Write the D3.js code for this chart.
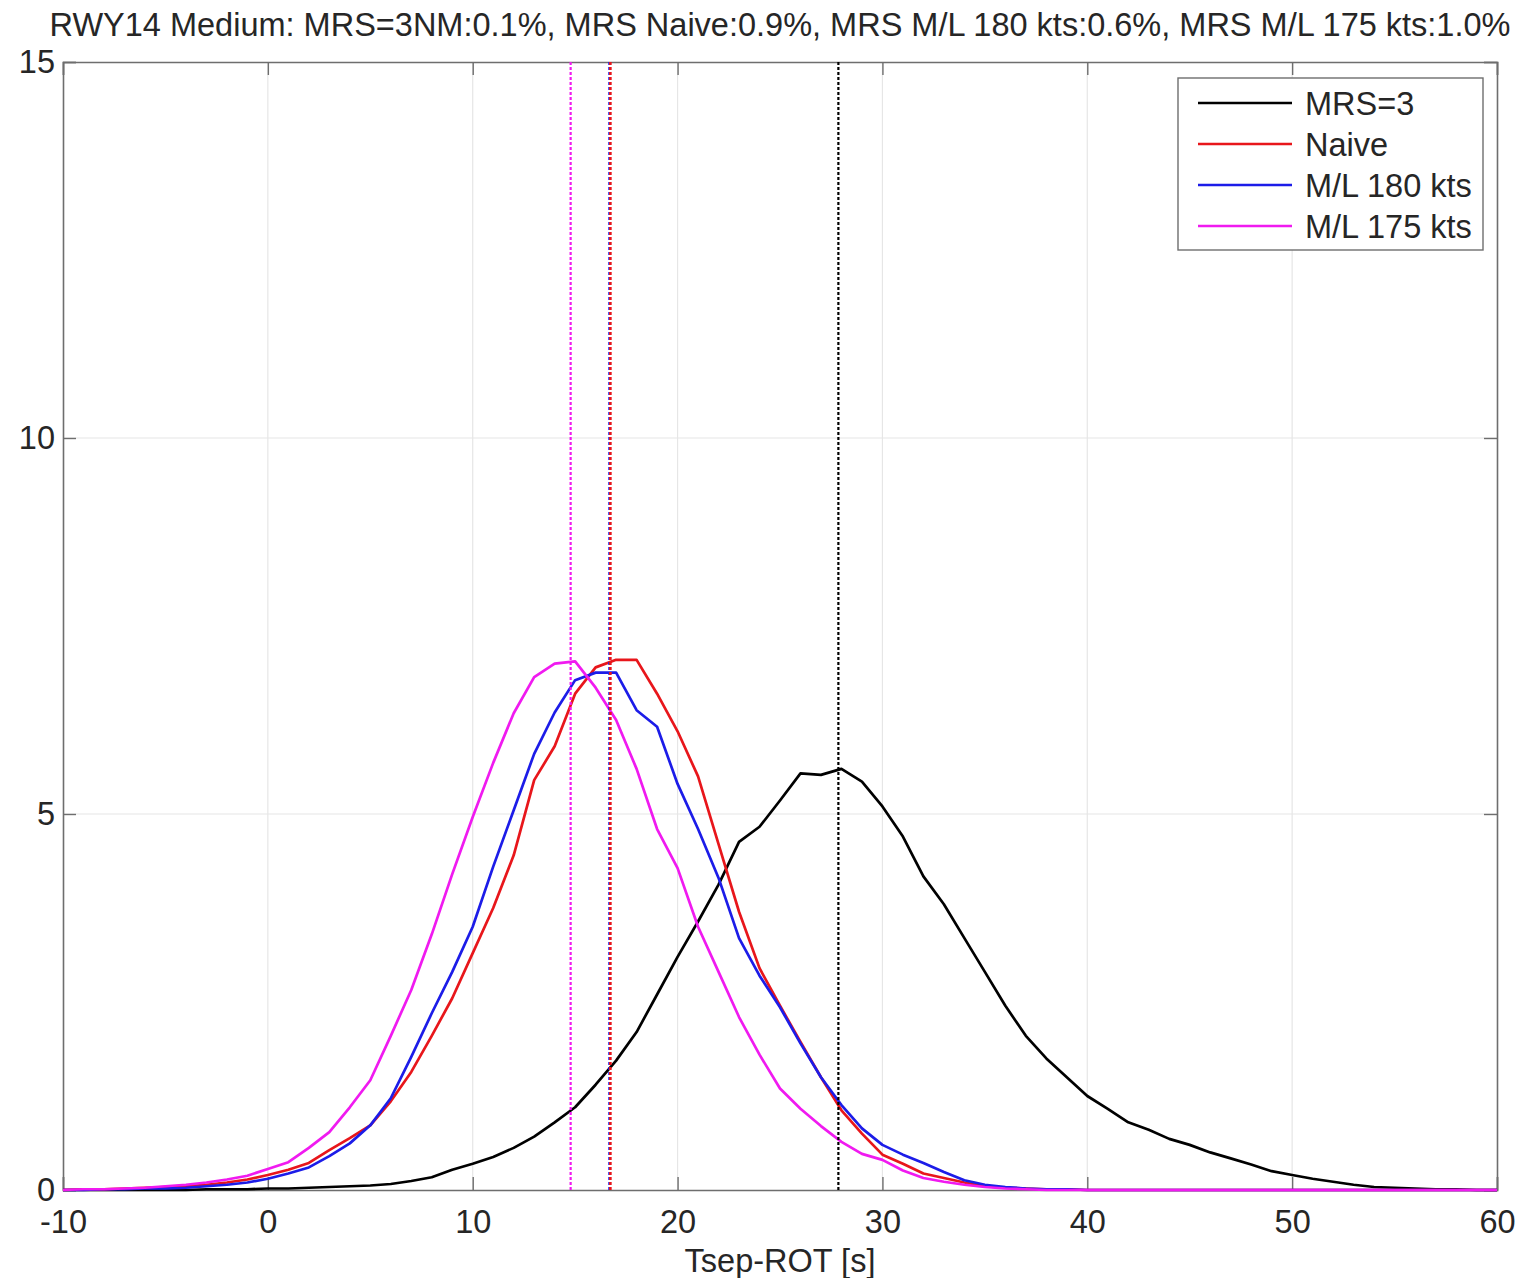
<!DOCTYPE html>
<html>
<head>
<meta charset="utf-8">
<script src="https://cdn.jsdelivr.net/npm/d3@7"></script>
<style>
  body { margin: 0; background: #fff; }
  text { font-family: "Liberation Sans", Arial, sans-serif; fill: #262626; }
</style>
</head>
<body>
<div id="chart"></div>
<script>
// bins of Tsep-ROT, one per second
const xs = d3.range(-10, 61);

// series values
const mrs3 = [0, 0, 0, 0, 0, 0, 0, 0.01, 0.01, 0.01,
  0.02, 0.02, 0.03, 0.04, 0.05, 0.06, 0.08, 0.12, 0.17, 0.27,
  0.35, 0.44, 0.56, 0.71, 0.9, 1.1, 1.4, 1.72, 2.1, 2.6,
  3.1, 3.57, 4.06, 4.63, 4.83, 5.18, 5.54, 5.52, 5.6, 5.43,
  5.1, 4.7, 4.17, 3.8, 3.35, 2.9, 2.45, 2.05, 1.75, 1.5,
  1.25, 1.08, 0.9, 0.8, 0.68, 0.6, 0.5, 0.42, 0.34, 0.25,
  0.2, 0.15, 0.11, 0.07, 0.04, 0.03, 0.02, 0.01, 0.01, 0, 0];

const naive = [0, 0.01, 0.01, 0.02, 0.03, 0.04, 0.05, 0.07, 0.1, 0.14,
  0.2, 0.27, 0.36, 0.53, 0.69, 0.86, 1.18, 1.57, 2.05, 2.55,
  3.15, 3.75, 4.45, 5.45, 5.9, 6.6, 6.95, 7.05, 7.05, 6.6,
  6.1, 5.5, 4.6, 3.7, 2.95, 2.45, 1.97, 1.5, 1.06, 0.75,
  0.47, 0.35, 0.22, 0.16, 0.1, 0.05, 0.03, 0.02, 0.01, 0.01,
  0, 0, 0, 0, 0, 0, 0, 0, 0, 0,
  0, 0, 0, 0, 0, 0, 0, 0, 0, 0, 0];

const ml180 = [0, 0, 0.01, 0.01, 0.02, 0.02, 0.03, 0.05, 0.07, 0.1,
  0.15, 0.22, 0.3, 0.45, 0.62, 0.86, 1.22, 1.77, 2.35, 2.9,
  3.5, 4.3, 5.05, 5.8, 6.35, 6.78, 6.88, 6.88, 6.38, 6.16,
  5.4, 4.8, 4.15, 3.35, 2.85, 2.43, 1.95, 1.5, 1.13, 0.82,
  0.6, 0.47, 0.36, 0.24, 0.13, 0.07, 0.04, 0.02, 0.01, 0.01,
  0, 0, 0, 0, 0, 0, 0, 0, 0, 0,
  0, 0, 0, 0, 0, 0, 0, 0, 0, 0, 0];

const ml175 = [0, 0.01, 0.01, 0.02, 0.03, 0.05, 0.07, 0.1, 0.14, 0.19,
  0.28, 0.37, 0.56, 0.77, 1.1, 1.46, 2.05, 2.66, 3.4, 4.2,
  4.96, 5.68, 6.34, 6.82, 7.0, 7.03, 6.68, 6.25, 5.6, 4.8,
  4.28, 3.5, 2.9, 2.3, 1.8, 1.35, 1.08, 0.85, 0.64, 0.48,
  0.4, 0.26, 0.16, 0.11, 0.07, 0.04, 0.02, 0.01, 0, 0,
  0, 0, 0, 0, 0, 0, 0, 0, 0, 0,
  0, 0, 0, 0, 0, 0, 0, 0, 0, 0, 0];

const seriesNames = ["MRS=3", "Naive", "M/L 180 kts", "M/L 175 kts"];
const seriesValues = [mrs3, naive, ml180, ml175];
const seriesColors = ["#000000", "#e8161b", "#1c1ce8", "#f01af0"];
// medians (dashed verticals); drawn blue first so red sits on top
const medians = [27.85, 16.72, 16.67, 14.78];
const medianOrder = [0, 2, 1, 3];

const xTicks = [-10, 0, 10, 20, 30, 40, 50, 60];
const yTicks = [0, 5, 10, 15];

const titleText = "RWY14 Medium: MRS=3NM:0.1%, MRS Naive:0.9%, MRS M/L 180 kts:0.6%, MRS M/L 175 kts:1.0%";
const xLabel = "Tsep-ROT [s]";

const width = 1518, height = 1278;
const margin = { top: 62, right: 21, bottom: 88, left: 63 };
const iw = width - margin.left - margin.right;
const ih = height - margin.top - margin.bottom;
const fs = 32.5;

const svg = d3.select("#chart").append("svg")
  .attr("width", width)
  .attr("height", height);

const g = svg.append("g")
  .attr("transform", `translate(${margin.left},${margin.top})`);

const x = d3.scaleLinear().domain([-10, 60]).range([0, iw]);
const y = d3.scaleLinear().domain([0, 15]).range([ih, 0]);

// grid
g.append("g").selectAll("line")
  .data(xTicks.slice(1, -1))
  .join("line")
  .attr("x1", d => x(d)).attr("x2", d => x(d))
  .attr("y1", 0).attr("y2", ih)
  .attr("stroke", "#e6e6e6").attr("stroke-width", 1.2);
g.append("g").selectAll("line")
  .data(yTicks.slice(1, -1))
  .join("line")
  .attr("y1", d => y(d)).attr("y2", d => y(d))
  .attr("x1", 0).attr("x2", iw)
  .attr("stroke", "#e6e6e6").attr("stroke-width", 1.2);

// axes (ticks point inward, plain hyphen for negatives)
const tickLen = 13;
const fmt = d => String(d);
const xAxis = g.append("g").attr("transform", `translate(0,${ih})`)
  .call(d3.axisBottom(x).tickValues(xTicks).tickSize(-tickLen).tickPadding(20).tickFormat(fmt));
const xAxisTop = g.append("g")
  .call(d3.axisTop(x).tickValues(xTicks).tickSize(-tickLen).tickFormat(""));
const yAxis = g.append("g")
  .call(d3.axisLeft(y).tickValues(yTicks).tickSize(-tickLen).tickPadding(8).tickFormat(fmt));
const yAxisRight = g.append("g").attr("transform", `translate(${iw},0)`)
  .call(d3.axisRight(y).tickValues(yTicks).tickSize(-tickLen).tickFormat(""));

[xAxis, xAxisTop, yAxis, yAxisRight].forEach(a => {
  a.select(".domain").attr("stroke", "#6e6e6e").attr("stroke-width", 1.6);
  a.selectAll(".tick line").attr("stroke", "#6e6e6e").attr("stroke-width", 1.4);
  a.selectAll("text").attr("font-size", fs).attr("fill", "#262626")
    .style("font-family", "'Liberation Sans', Arial, sans-serif");
});

// curves
const line = d3.line()
  .x((d, i) => x(xs[i]))
  .y(d => y(d));

seriesValues.forEach((vals, k) => {
  g.append("path")
    .datum(vals)
    .attr("fill", "none")
    .attr("stroke", seriesColors[k])
    .attr("stroke-width", 2.7)
    .attr("stroke-linejoin", "round")
    .attr("d", line);
});

// median lines
g.append("g").selectAll("line")
  .data(medianOrder)
  .join("line")
  .attr("x1", k => x(medians[k])).attr("x2", k => x(medians[k]))
  .attr("y1", y(0)).attr("y2", y(15))
  .attr("stroke", k => seriesColors[k])
  .attr("stroke-width", k => k === 1 ? 2.6 : 2.2)
  .attr("stroke-dasharray", "3,2");

// title and label
svg.append("text")
  .attr("x", 780).attr("y", 36)
  .attr("text-anchor", "middle")
  .attr("font-size", fs)
  .text(titleText);

svg.append("text")
  .attr("x", 780).attr("y", 1272)
  .attr("text-anchor", "middle")
  .attr("font-size", fs)
  .text(xLabel);

// legend
const legend = g.append("g").attr("transform", `translate(${1178 - margin.left},${78 - margin.top})`);
legend.append("rect")
  .attr("width", 305).attr("height", 172)
  .attr("fill", "#fff")
  .attr("stroke", "#6e6e6e").attr("stroke-width", 1.4);

const items = legend.selectAll("g.item")
  .data(seriesNames)
  .join("g")
  .attr("class", "item")
  .attr("transform", (d, i) => `translate(0,${25 + i * 41})`);

items.append("line")
  .attr("x1", 20).attr("x2", 114)
  .attr("stroke", (d, i) => seriesColors[i])
  .attr("stroke-width", 2.7);

items.append("text")
  .attr("x", 127).attr("dy", "0.36em")
  .attr("font-size", fs)
  .text(d => d);
</script>
</body>
</html>
